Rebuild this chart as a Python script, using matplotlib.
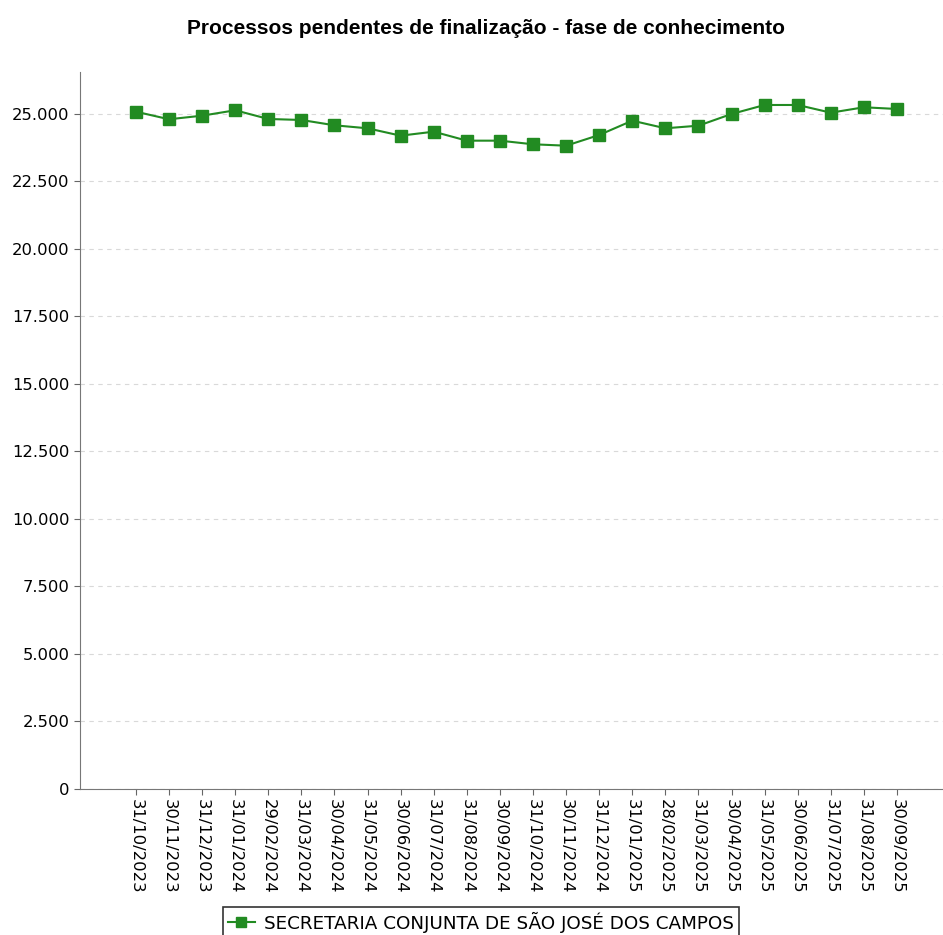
import numpy as np
import matplotlib.pyplot as plt
from matplotlib.ticker import FuncFormatter

# Datos
datas = ['31/10/2023', '30/11/2023', '31/12/2023', '31/01/2024', '29/02/2024', '31/03/2024',
         '30/04/2024', '31/05/2024', '30/06/2024', '31/07/2024', '31/08/2024', '30/09/2024',
         '31/10/2024', '30/11/2024', '31/12/2024', '31/01/2025', '28/02/2025', '31/03/2025',
         '30/04/2025', '31/05/2025', '30/06/2025', '31/07/2025', '31/08/2025', '30/09/2025']
pendentes = [25074, 24793, 24926, 25126, 24804, 24767, 24570, 24459, 24186, 24334, 24001, 24001,
             23867, 23815, 24211, 24741, 24459, 24556, 24989, 25322, 25322, 25037, 25237, 25174]
serie = 'SECRETARIA CONJUNTA DE SÃO JOSÉ DOS CAMPOS'
titulo = 'Processos pendentes de finalização - fase de conhecimento'

fig = plt.figure(figsize=(9.43, 9.35), dpi=100)
ax = fig.add_axes([80/943, 1 - 789/935, 1 - 80/943, (789 - 72)/935])

x = np.arange(len(datas))
ax.plot(x, pendentes, color='#228B22', lw=1.5, marker='s', markersize=8.5, label=serie, zorder=3)

ax.set_xlim(-1.69, 24.39)
ax.set_ylim(0, 26543)
ax.set_yticks(np.arange(0, 25001, 2500))
ax.yaxis.set_major_formatter(FuncFormatter(lambda v, p: f'{int(v):,}'.replace(',', '.')))
ax.set_xticks(x)
ax.set_xticklabels(datas, rotation=270)
ax.tick_params(labelsize=11.8, length=4, color='#666666')
ax.grid(axis='y', ls=(0, (4, 4)), color='#d9d9d9', lw=0.8)
for s in ['top', 'right']:
    ax.spines[s].set_visible(False)
for s in ['left', 'bottom']:
    ax.spines[s].set_color('#777777')

fig.text(486/943, 1 - 28/935, titulo, ha='center', va='center', fontsize=15,
         fontweight='bold', family='Liberation Sans')

# leyenda cortada abajo como en el original
leg = fig.legend(loc='upper center', bbox_to_anchor=(481/943, 1 - 907/935), fontsize=13.2,
                 frameon=True, fancybox=False, handlelength=1.5, handletextpad=0.5,
                 borderpad=0.25, borderaxespad=0, markerscale=0.8)
leg.get_frame().set_edgecolor('black')
leg.get_frame().set_linewidth(1.2)

fig.savefig('out.png', dpi=100)
